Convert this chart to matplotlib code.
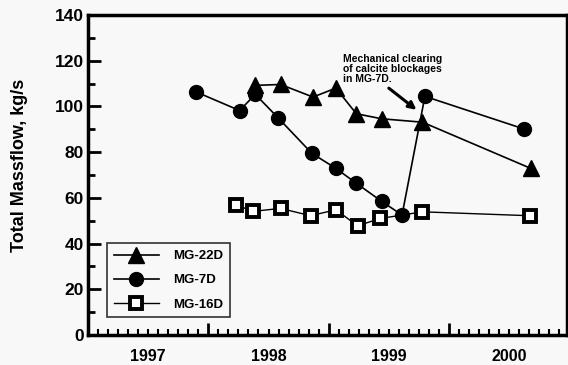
import matplotlib.pyplot as plt
from matplotlib.ticker import MultipleLocator, FixedLocator, NullFormatter

plt.rcParams['font.family'] = ['Liberation Sans', 'DejaVu Sans']
plt.rcParams['font.weight'] = 'bold'

# decimal year, total massflow (kg/s)
mg22d_t = [1998.39, 1998.60, 1998.87, 1999.06, 1999.23, 1999.44, 1999.78, 2000.68]
mg22d_v = [109.2, 109.6, 104.1, 108.0, 96.8, 94.6, 93.1, 72.9]

mg7d_t = [1997.90, 1998.26, 1998.39, 1998.58, 1998.86, 1999.06, 1999.23,
          1999.44, 1999.61, 1999.80, 2000.62]
mg7d_v = [106.3, 98.2, 105.3, 95.0, 79.5, 72.9, 66.4, 58.5, 52.5, 104.4, 90.2]

mg16d_t = [1998.23, 1998.37, 1998.60, 1998.85, 1999.06, 1999.24, 1999.43,
           1999.78, 2000.67]
mg16d_v = [57.0, 54.1, 55.4, 52.2, 54.8, 47.8, 51.0, 53.9, 52.2]

years = [1997, 1998, 1999, 2000]

fig = plt.figure(figsize=(5.68, 3.65), dpi=100, facecolor='#f8f8f8')
ax = fig.add_axes([0.155, 0.082, 0.843, 0.877], facecolor='#f8f8f8')

ax.plot(mg22d_t, mg22d_v, '-^', color='black', lw=1.2, ms=11, label='MG-22D')
ax.plot(mg7d_t, mg7d_v, '-o', color='black', lw=1.2, ms=10, label='MG-7D')
ax.plot(mg16d_t, mg16d_v, '-s', color='black', lw=1.0, ms=8.5,
        mfc='white', mec='black', mew=2.8, label='MG-16D')

ax.set_xlim(1997.0, 2000.98)
ax.set_ylim(0, 140)

# year boundaries get the big ticks, labels sit mid-year
ax.xaxis.set_major_locator(FixedLocator([1998, 1999, 2000]))
ax.xaxis.set_major_formatter(NullFormatter())
ax.xaxis.set_minor_locator(MultipleLocator(1 / 12))
ax.xaxis.set_minor_formatter(NullFormatter())
for y in years:
    ax.text(y + 0.5, -6, str(y), ha='center', va='top', fontsize=11.5,
            fontweight='bold')

ax.yaxis.set_major_locator(MultipleLocator(20))
ax.yaxis.set_minor_locator(MultipleLocator(10))

ax.tick_params(axis='both', which='both', direction='in', width=2, color='black')
ax.tick_params(axis='x', which='major', length=9)
ax.tick_params(axis='x', which='minor', length=4, width=1.5)
ax.tick_params(axis='y', which='major', length=9, labelsize=12.5, pad=3)
ax.tick_params(axis='y', which='minor', length=5)
for lbl in ax.get_yticklabels():
    lbl.set_fontweight('bold')

for s in ax.spines.values():
    s.set_linewidth(2.5)

ax.set_ylabel('Total Massflow, kg/s', fontsize=13, fontweight='bold')
ax.yaxis.set_label_coords(-0.125, 0.53)

ax.text(1999.12, 110, 'Mechanical clearing\nof calcite blockages\nin MG-7D.',
        fontsize=7.5, fontweight='bold', ha='left', va='bottom', linespacing=1.0)
ax.annotate('', xy=(1999.73, 98.5), xytext=(1999.50, 108),
            arrowprops=dict(arrowstyle='-|>', color='black', lw=2.2,
                            shrinkA=0, shrinkB=0, mutation_scale=11))

leg = ax.legend(loc='lower left', bbox_to_anchor=(0.04, 0.056), frameon=True,
                fancybox=False, edgecolor='black', facecolor='#f8f8f8',
                prop={'weight': 'bold', 'size': 9.5}, handlelength=3.4,
                labelspacing=0.9, borderpad=0.5, handletextpad=1.1,
                borderaxespad=0)
leg.get_frame().set_linewidth(1.2)

fig.savefig('out.png', dpi=100, facecolor=fig.get_facecolor())
